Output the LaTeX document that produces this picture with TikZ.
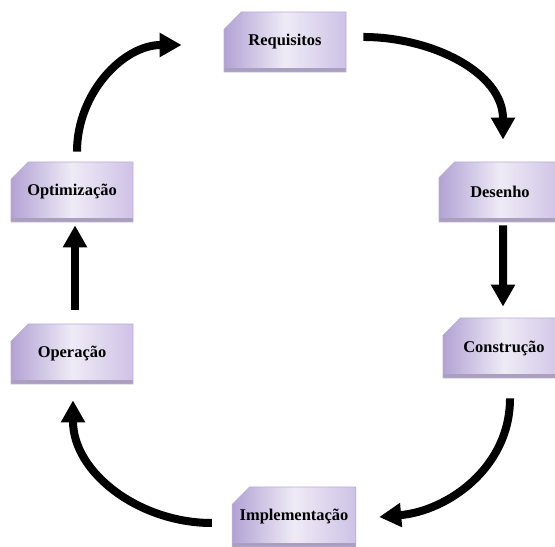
\documentclass[tikz,border=0pt]{standalone}
\usepackage{fontspec}
\setmainfont{Liberation Serif}
\usetikzlibrary{arrows.meta,shapes.misc}
\definecolor{boxedge}{RGB}{186,172,220}
\definecolor{boxdark}{RGB}{178,162,212}
\definecolor{boxlight}{RGB}{238,235,246}
\definecolor{boxright}{RGB}{206,194,230}
\definecolor{boxband}{RGB}{170,160,190}

\begin{document}
\begin{tikzpicture}[x=1bp,y=1bp,line join=miter,
  box/.style={chamfered rectangle, chamfered rectangle corners=north west,
    chamfered rectangle xsep=25bp, chamfered rectangle ysep=10bp,
    minimum width=122bp, minimum height=60bp, inner sep=0pt,
    draw=boxedge, line width=0.8bp,
    left color=boxdark, right color=boxright, middle color=boxlight,
    font=\fontsize{16.5}{19}\selectfont\bfseries,
    path picture={\fill[boxband] (path picture bounding box.south west)
      rectangle ([yshift=4bp]path picture bounding box.south east);}},
  flow/.style={line width=8bp, -{Triangle[length=22bp,width=23bp]}}]
\clip (0,0) rectangle (555,547);
%%
\node (req) at (285bp,505bp) [box] {Requisitos};
\node (des) at (500bp,355bp) [box] {Desenho};
\node (con) at (504bp,199bp) [box] {Construção};
\node (imp) at (294bp,30bp) [box] {Implementação};
\node (ope) at (72bp,193bp) [box] {Operação};
\node (opt) at (72bp,355bp) [box] {Optimização};
%
\draw [flow] ([shift={(17bp,5bp)}]req.east) to[out=0,in=90] ([shift={(3bp,22bp)}]des.north);
\draw [flow] ([shift={(3bp,-3bp)}]des.south) -- ([shift={(-1bp,11bp)}]con.north);
\draw [flow] ([shift={(6bp,-20bp)}]con.south) to[out=-90,in=5] ([shift={(23bp,0bp)}]imp.east);
\draw [flow] ([shift={(-20bp,-6bp)}]imp.west) to[out=180,in=-90] ([shift={(1bp,-16bp)}]ope.south);
\draw [flow] ([shift={(3bp,14bp)}]ope.north) -- ([shift={(3bp,-3bp)}]opt.south);
\draw [flow] ([shift={(5bp,10bp)}]opt.north) to[out=90,in=180] ([shift={(-42bp,-3bp)}]req.west);
%
\end{tikzpicture}
\end{document}
